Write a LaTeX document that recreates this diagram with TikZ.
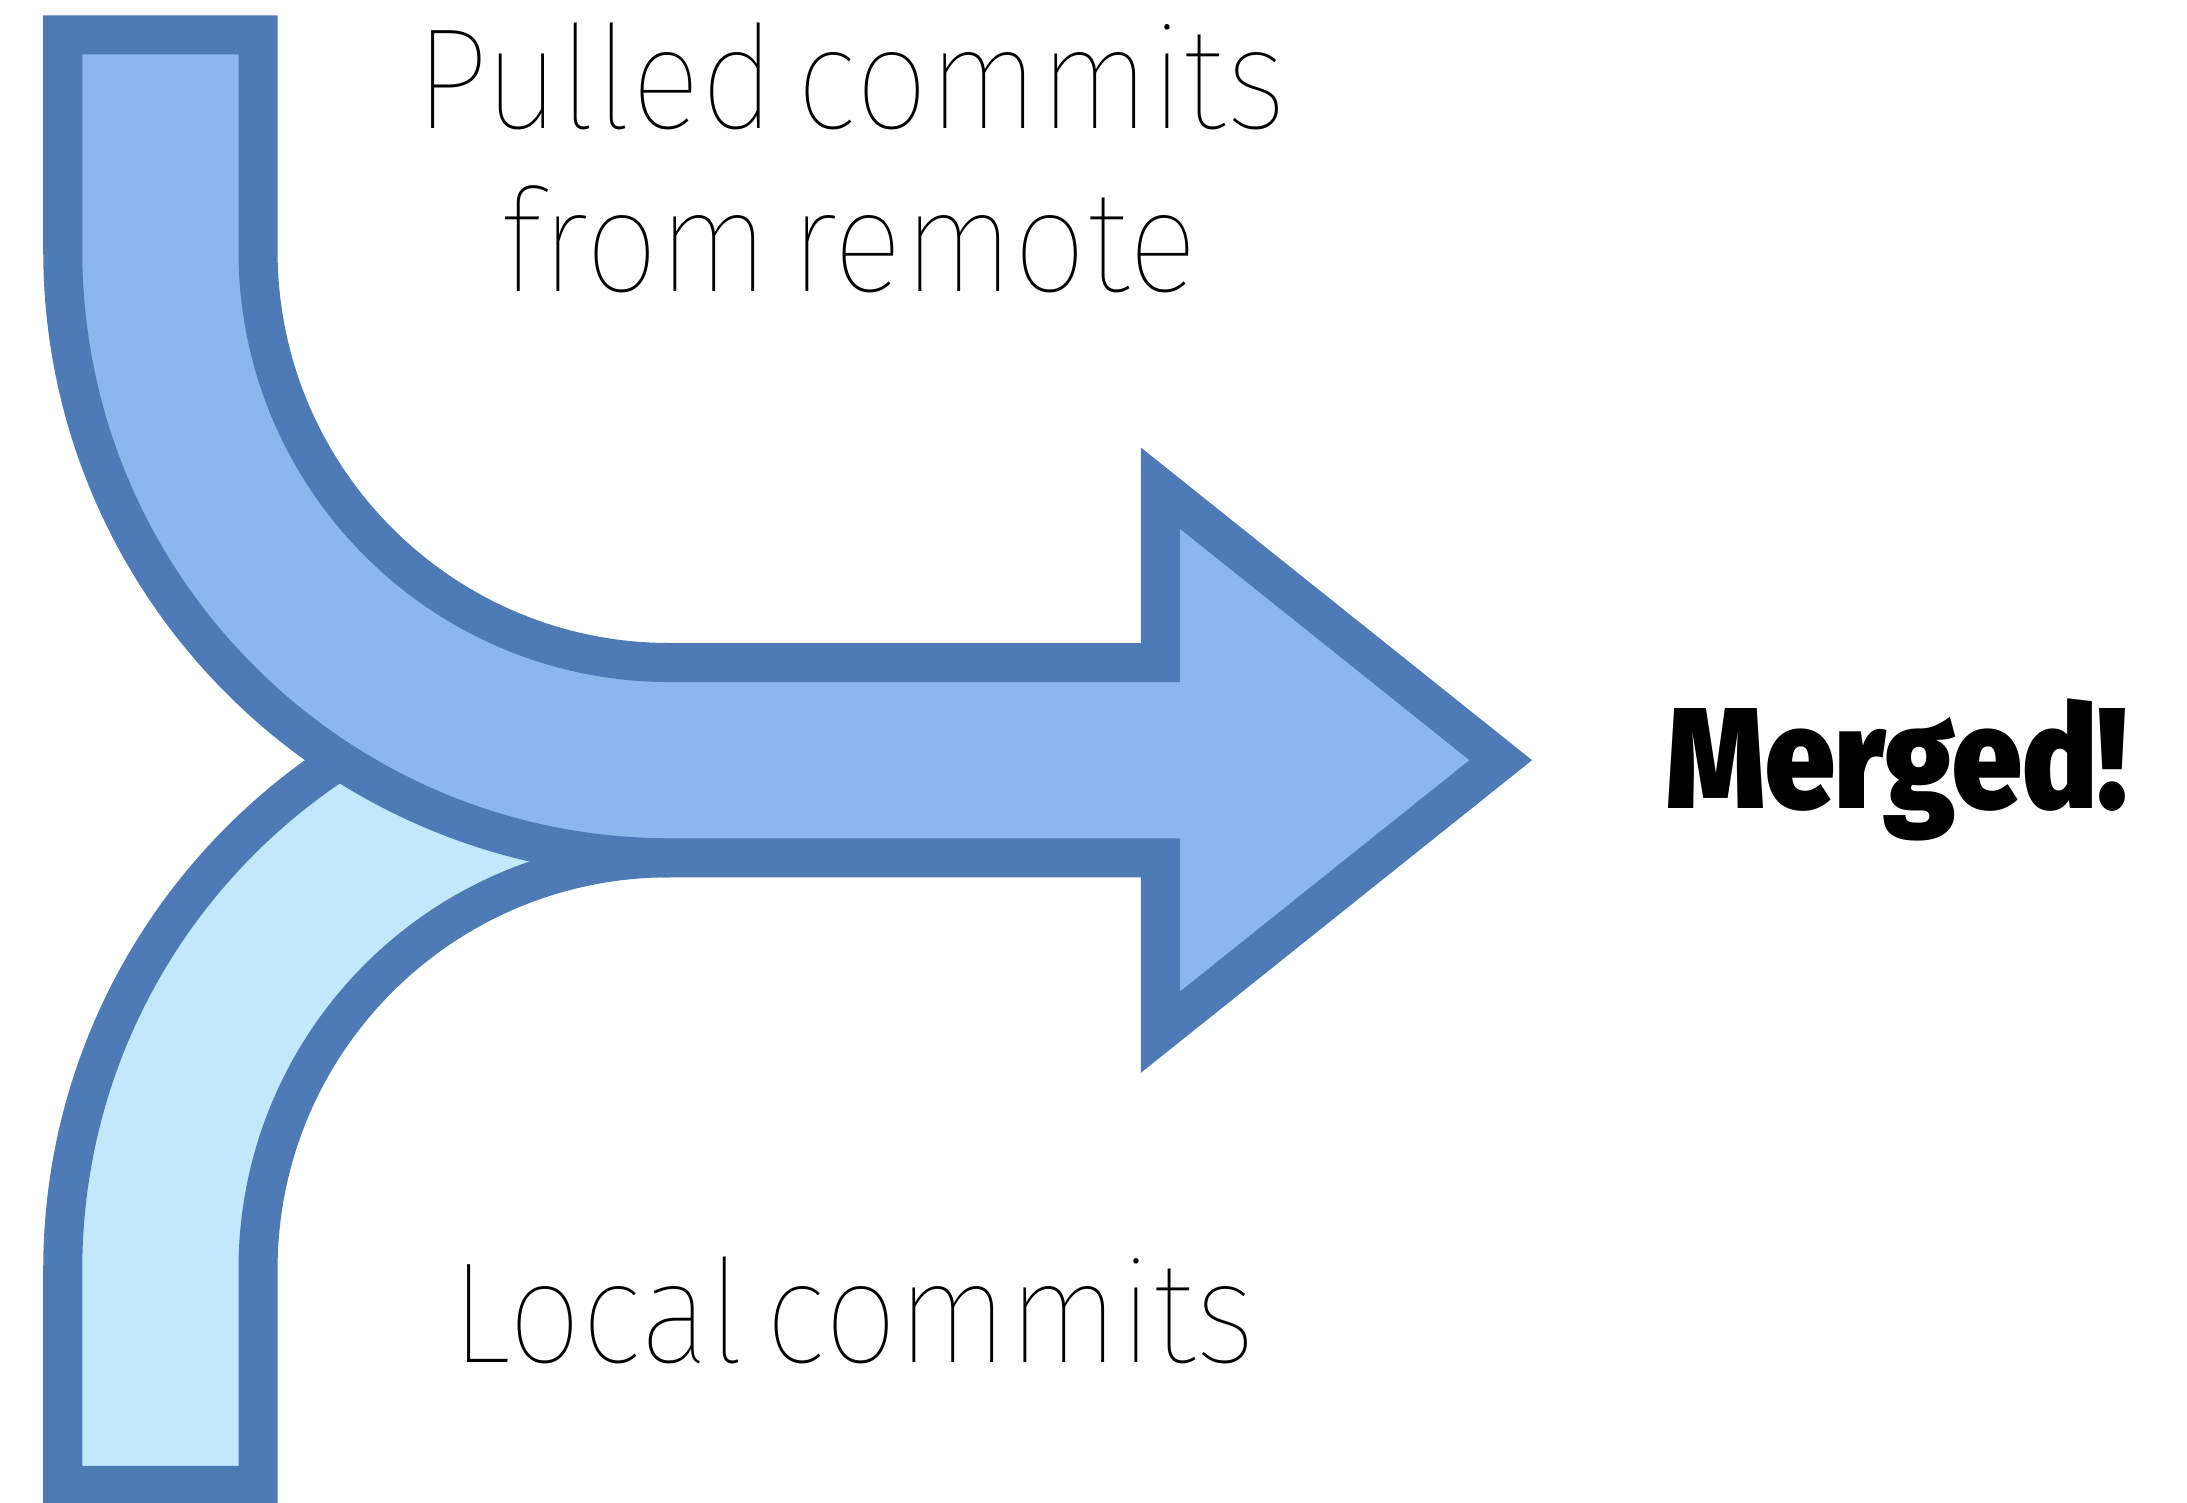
\documentclass[tikz,border=0pt]{standalone}
\usepackage{fontspec}
\newfontfamily\thinfont{Fira Sans}[UprightFont={* Thin}, FakeStretch=0.91, WordSpace=0.55]
\newfontfamily\heavyfont{Fira Sans}[UprightFont={* Black}, FakeStretch=0.87]
\definecolor{edgeblue}{RGB}{78,122,181}
\definecolor{pulledfill}{RGB}{139,182,238}
\definecolor{localfill}{RGB}{194,232,253}
\tikzset{
  band/.style={draw=edgeblue, line width=28pt, line join=miter},
  caption/.style={font=\thinfont\fontsize{103}{117}\selectfont, inner sep=0pt, anchor=base},
  result/.style={font=\heavyfont\fontsize{103}{117}\selectfont, inner sep=0pt, anchor=base}
}
\begin{document}
\begin{tikzpicture}[x=1pt,y=-1pt]
  \useasboundingbox (0,0) rectangle (1568,1077);
  % local branch: rises from the bottom and bends into the trunk
  \fill[localfill]
    (45,1065) -- (185,1065) -- (185,910)
    .. controls (185,747) and (317,615) .. (480,615)
    -- (600,615) -- (600,475) -- (480,475)
    .. controls (240,475) and (45,670) .. (45,910) -- cycle;
  \draw[band]
    (480,615) .. controls (317,615) and (185,747) .. (185,910)
    -- (185,1065) -- (45,1065) -- (45,910)
    .. controls (45,670) and (240,475) .. (480,475);
  % remote branch: comes down from the top and runs into the arrow
  \path[band, fill=pulledfill]
    (45,25) -- (185,25) -- (185,180)
    .. controls (185,343) and (317,475) .. (480,475)
    -- (832,475) -- (832,350) -- (1076,545) -- (832,740) -- (832,615)
    -- (480,615)
    .. controls (240,615) and (45,420) .. (45,180) -- cycle;
  % labels
  \node[caption] (pulledA) at (610,92) {Pulled commits};
  \node[caption] (pulledB) at (609,209) {from remote};
  \node[caption] (local) at (612,977) {Local commits};
  \node[result] (merged) at (1360,580) {Merged!};
\end{tikzpicture}
\end{document}
